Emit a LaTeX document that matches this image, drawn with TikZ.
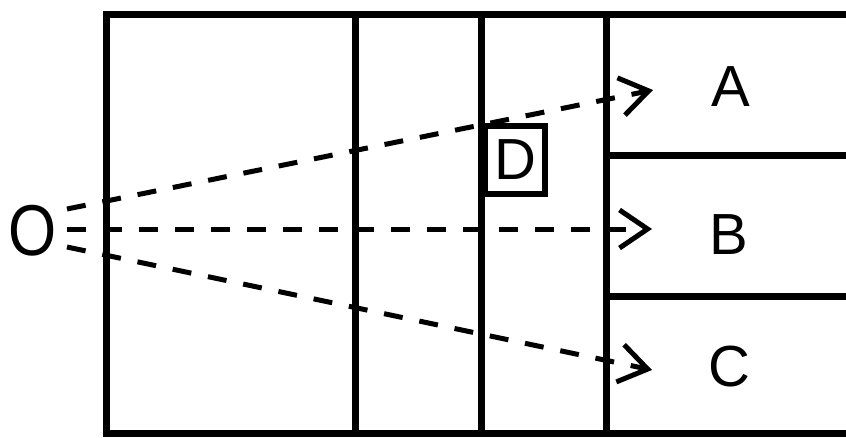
\documentclass[tikz,border=0pt]{standalone}
\usepackage{fontspec}
\setmainfont{Liberation Sans}
\usetikzlibrary{arrows.meta}
\begin{document}
\begin{tikzpicture}[x=1pt,y=-1pt,
  wall/.style={line width=7pt},
  lbl/.style={inner sep=0pt,font=\fontsize{58}{60}\selectfont},
  ray/.style={line width=5pt, dash pattern=on 19pt off 17pt,
    -{Straight Barb[length=28pt,width=38pt,line width=5pt]}},
  dbox/.style={draw,line width=6pt,minimum width=60pt,minimum height=68pt,inner sep=0pt,fill=white,
    font=\fontsize{58}{60}\selectfont}
]
\clip (0,0) rectangle (846,437);
\fill[white] (0,0) rectangle (846,437);
% walls
\draw[wall] (106,14) rectangle (880,433);
\draw[wall] (355,14) -- (355,433);
\draw[wall] (481,14) -- (481,433);
\draw[wall] (606,14) -- (606,433);
\draw[wall] (606,155) -- (880,155);
\draw[wall] (606,296) -- (880,296);
% labels
\node[lbl,xscale=0.86,font=\fontsize{72}{74}\selectfont] (O) at (33,231) {O};
\node[lbl] (A) at (731,87) {A};
\node[lbl] (B) at (729,235) {B};
\node[lbl] (C) at (729,367) {C};
% ray endpoints
\coordinate (sA) at (67,209);
\coordinate (sB) at (67,229);
\coordinate (sC) at (67,247);
\coordinate (tA) at (653,90);
\coordinate (tB) at (652,229);
\coordinate (tC) at (652,370);
\draw[ray] (sA) -- (tA);
\draw[ray] (sB) -- (tB);
\draw[ray] (sC) -- (tC);
% D box
\node[dbox] (D) at (515,160) {D};
\end{tikzpicture}
\end{document}
